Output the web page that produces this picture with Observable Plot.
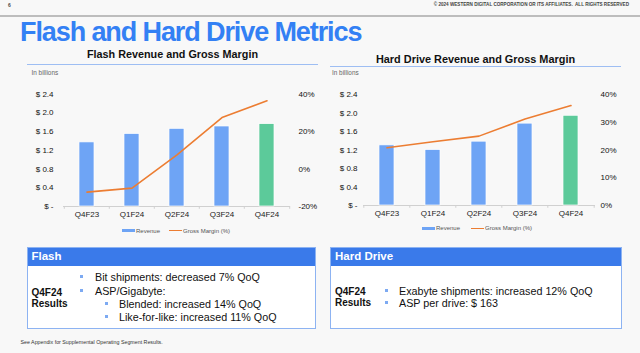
<!DOCTYPE html>
<html>
<head>
<meta charset="utf-8">
<script src="https://cdn.jsdelivr.net/npm/d3@7"></script>
<script src="https://cdn.jsdelivr.net/npm/@observablehq/plot@0.6"></script>
<style>
  html, body { margin: 0; padding: 0; }
  body { width: 640px; height: 353px; position: relative; overflow: hidden; background: #F8F8F8;
         font-family: "Liberation Sans", Arial, sans-serif; color: #111; }
  .abs { position: absolute; white-space: nowrap; }
  .box { position: absolute; background: #FFFFFF; border: 1px solid #8DB3F2; box-sizing: border-box; }
  .boxhead { position: absolute; left: 0; top: 0; right: 0; height: 18px; background: #3A7AEA; }
  .bul { position: absolute; width: 3px; height: 3px; background: #7DAAF2; }
  svg { overflow: visible; }
</style>
</head>
<body>
<script>
// ---------------- data ----------------
const categories   = ["Q4F23", "Q1F24", "Q2F24", "Q3F24", "Q4F24"];
const flashRevenue = [1.37, 1.55, 1.66, 1.71, 1.76];     // $ billions
const flashMargin  = [-12.3, -10.2, 7.6, 27.5, 36.5];    // gross margin %
const hddRevenue   = [1.30, 1.20, 1.38, 1.77, 1.94];     // $ billions
const hddMargin    = [20.8, 23.0, 25.0, 31.2, 36.0];     // gross margin %
const revTicks      = [0, 0.4, 0.8, 1.2, 1.6, 2.0, 2.4];
const flashPctTicks = [-20, 0, 20, 40];
const hddPctTicks   = [0, 10, 20, 30, 40];
const legendLabels  = ["Revenue", "Gross Margin (%)"];

const BLUE = "#6EA4F5", GREEN = "#5CCA9A", ORANGE = "#EC7D32";

function add(html, style) {
  const d = document.createElement("div");
  d.className = "abs";
  d.innerHTML = html;
  Object.assign(d.style, style);
  document.body.appendChild(d);
  return d;
}

function makeChart({rev, gm, toRev, fromRev, pctTicks, mL, mR, mT, mB, padL, padR}) {
  const data = categories.map((c, i) => ({cat: c, rev: rev[i], gm: gm[i], latest: i === categories.length - 1}));
  const W = 320, H = 170;
  const step = (W - mL - mR) / categories.length;
  return Plot.plot({
    width: W, height: H,
    marginLeft: mL, marginRight: mR, marginTop: mT, marginBottom: mB,
    style: {background: "transparent", fontFamily: "'Liberation Sans', Arial, sans-serif", fontSize: "8px", color: "#111", overflow: "visible"},
    x: {type: "band", domain: categories, paddingInner: 0.67, paddingOuter: 0.335, label: null},
    y: {domain: [0, 2.4], label: null},
    marks: [
      Plot.ruleY([0], {stroke: "#D0D0D0", strokeWidth: 1}),
      Plot.ruleX(categories, {x: d => d, dx: -step / 2, y1: 0, y2: -0.06, stroke: "#D0D0D0"}),
      Plot.ruleX([categories[categories.length - 1]], {x: d => d, dx: step / 2, y1: 0, y2: -0.06, stroke: "#D0D0D0"}),
      Plot.barY(data, {x: "cat", y: "rev", fill: d => d.latest ? GREEN : BLUE, stroke: "white", strokeWidth: 0.7}),
      Plot.line(data, {x: "cat", y: d => toRev(d.gm), stroke: ORANGE, strokeWidth: 1.6}),
      Plot.axisX({tickSize: 0, tickPadding: 5, fill: "#222"}),
      Plot.axisY(revTicks, {anchor: "left", tickSize: 0, tickPadding: padL, fill: "#111",
        tickFormat: d => d === 0 ? "$ -" : "$ " + d.toFixed(1)}),
      Plot.axisY(pctTicks.map(toRev), {anchor: "right", tickSize: 0, tickPadding: padR, fill: "#111",
        tickFormat: d => Math.round(fromRev(d)) + "%"})
    ]
  });
}

// ---------- header ----------
add("6", {left: "8px", top: "1px", fontSize: "5px", fontWeight: "bold", color: "#444", lineHeight: "8px"});
add("© 2024 WESTERN DIGITAL CORPORATION OR ITS AFFILIATES.&nbsp; ALL RIGHTS RESERVED",
    {right: "11px", top: "1px", fontSize: "4.6px", fontWeight: "bold", color: "#444", lineHeight: "8px"});
add("", {left: "0px", top: "15px", width: "640px", height: "1.5px", background: "#BDBDBD"});
add("Flash and Hard Drive Metrics", {left: "20px", top: "19px", fontSize: "27px", fontWeight: "bold",
    color: "#3380F4", letterSpacing: "-1.1px", lineHeight: "27px"});

// ---------- chart titles ----------
add("Flash Revenue and Gross Margin", {left: "27px", width: "291px", textAlign: "center", top: "49px",
    fontSize: "10.8px", fontWeight: "bold", lineHeight: "11px"});
add("Hard Drive Revenue and Gross Margin", {left: "330px", width: "291px", textAlign: "center", top: "53.5px",
    fontSize: "10.9px", fontWeight: "bold", lineHeight: "11px"});
add("", {left: "27px", top: "63.5px", width: "291px", height: "1.3px", background: "#9EBEF3"});
add("", {left: "330px", top: "66px", width: "291px", height: "1.3px", background: "#9EBEF3"});
add("In billions", {left: "31.5px", top: "68.5px", fontSize: "6.4px", color: "#666", lineHeight: "8px"});
add("In billions", {left: "332px", top: "68.5px", fontSize: "6.4px", color: "#666", lineHeight: "8px"});

// ---------- charts ----------
const left = makeChart({rev: flashRevenue, gm: flashMargin,
  toRev: p => (p + 20) / 25, fromRev: r => r * 25 - 20, pctTicks: flashPctTicks,
  mL: 63, mR: 30, mT: 33.7, mB: 24, padL: 10, padR: 8});
Object.assign(left.style, {position: "absolute", left: "0px", top: "60px"});
document.body.appendChild(left);

const right = makeChart({rev: hddRevenue, gm: hddMargin,
  toRev: p => p * 0.06, fromRev: r => r / 0.06, pctTicks: hddPctTicks,
  mL: 43, mR: 45, mT: 34, mB: 25, padL: 6, padR: 5});
Object.assign(right.style, {position: "absolute", left: "320px", top: "60px"});
document.body.appendChild(right);

// ---------- legends ----------
function legend(x, y, gap) {
  add("", {left: x + "px", top: (y - 1.5) + "px", width: "13px", height: "3px", background: BLUE});
  add(legendLabels[0], {left: (x + 14.5) + "px", top: (y - 4) + "px", fontSize: "6px", color: "#555", lineHeight: "8px"});
  const x2 = x + gap;
  add("", {left: x2 + "px", top: (y - 0.75) + "px", width: "13px", height: "1.5px", background: ORANGE});
  add(legendLabels[1], {left: (x2 + 14) + "px", top: (y - 4) + "px", fontSize: "6px", color: "#555", lineHeight: "8px"});
}
legend(121.5, 230.7, 47.5);
legend(421.5, 228.3, 49.5);

// ---------- result boxes ----------
function box(x, y, w, h, title) {
  const b = document.createElement("div");
  b.className = "box";
  Object.assign(b.style, {left: x + "px", top: y + "px", width: w + "px", height: h + "px"});
  const hd = document.createElement("div");
  hd.className = "boxhead";
  b.appendChild(hd);
  document.body.appendChild(b);
  add(title, {left: (x + 5) + "px", top: (y + 2) + "px", fontSize: "11.5px", fontWeight: "bold", color: "#fff", lineHeight: "14px"});
}
function bullet(bx, tx, cy, text) {
  const s = document.createElement("div");
  s.className = "bul";
  Object.assign(s.style, {left: (bx - 1.5) + "px", top: (cy - 2.5) + "px"});
  document.body.appendChild(s);
  add(text, {left: tx + "px", top: (cy - 6.5) + "px", fontSize: "10.75px", color: "#111", lineHeight: "13px"});
}
function resLabel(x, c1, c2) {
  add("Q4F24", {left: x + "px", top: (c1 - 6) + "px", fontSize: "10px", fontWeight: "bold", lineHeight: "12px"});
  add("Results", {left: x + "px", top: (c2 - 6) + "px", fontSize: "10px", fontWeight: "bold", lineHeight: "12px"});
}

box(26.5, 246.5, 289, 82, "Flash");
resLabel(31.5, 292.7, 303.8);
bullet(81, 95, 277.7, "Bit shipments: decreased 7% QoQ");
bullet(81, 95, 291, "ASP/Gigabyte:");
bullet(106, 119, 304, "Blended: increased 14% QoQ");
bullet(106, 119, 317, "Like-for-like: increased 11% QoQ");

box(330, 246.5, 292, 82, "Hard Drive");
resLabel(335, 291.7, 303.3);
bullet(386, 399, 291.7, "Exabyte shipments: increased 12% QoQ");
bullet(386, 399, 303.5, "ASP per drive: $ 163");

// ---------- footer ----------
add("See Appendix for Supplemental Operating Segment Results.", {left: "20.5px", top: "338px",
    fontSize: "5.3px", color: "#333", lineHeight: "8px"});
</script>
</body>
</html>
